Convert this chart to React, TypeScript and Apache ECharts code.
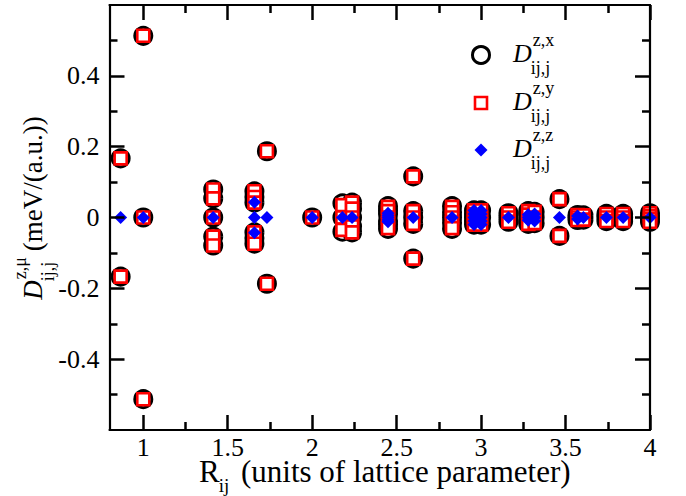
import React, { useEffect, useRef } from "react";
import * as echarts from "echarts";

// Neighbour-shell distances R_ij (units of the lattice parameter)
const shells = [
  0.866, 1.0, 1.414, 1.658, 1.732, 2.0, 2.179, 2.236, 2.449, 2.598, 2.828,
  2.958, 3.0, 3.162, 3.279, 3.317, 3.464, 3.571, 3.606, 3.742, 3.841, 4.0,
];

// D^{z,x}_{ij,j} values per shell (meV/(a.u.))
const dzx: number[][] = [
  [0.167, -0.167],
  [0.513, 0, -0.513],
  [0.079, 0.054, 0, -0.054, -0.079],
  [0.074, 0.058, 0.042, -0.042, -0.058, -0.074],
  [0.187, -0.187],
  [0],
  [0.04, 0, -0.04],
  [0.042, 0.025, 0, -0.025, -0.042],
  [0.032, 0.02, 0.01, -0.01, -0.02, -0.032],
  [0.116, 0.018, 0, -0.018, -0.116],
  [0.032, 0.015, 0, -0.015, -0.032],
  [0.02, 0.01, 0, -0.01, -0.02],
  [0.02, 0, -0.02],
  [0.012, 0, -0.012],
  [0.018, 0.008, -0.008, -0.018],
  [0.016, 0, -0.016],
  [0.052, -0.052],
  [0.007, 0, -0.007],
  [0.006, -0.006],
  [0.01, 0, -0.01],
  [0.01, 0, -0.01],
  [0.012, 0.004, -0.004, -0.012],
];

// D^{z,y}_{ij,j} values per shell
const dzy: number[][] = [
  [0.167, -0.167],
  [0.513, 0, -0.513],
  [0.079, 0.054, 0, -0.054, -0.079],
  [0.074, 0.058, 0.042, -0.042, -0.058, -0.074],
  [0.187, -0.187],
  [0],
  [0.035, 0, -0.035],
  [0.042, 0.025, 0, -0.025, -0.042],
  [0.03, 0.018, 0, -0.018, -0.03],
  [0.116, 0.018, 0, -0.018, -0.116],
  [0.03, 0.015, 0, -0.015, -0.03],
  [0.02, 0.01, 0, -0.01, -0.02],
  [0.02, 0, -0.02],
  [0.012, 0, -0.012],
  [0.018, 0.008, -0.008, -0.018],
  [0.016, 0, -0.016],
  [0.052, -0.052],
  [0.007, 0, -0.007],
  [0.006, -0.006],
  [0.01, 0, -0.01],
  [0.01, 0, -0.01],
  [0.012, 0.004, -0.004, -0.012],
];

// D^{z,z}_{ij,j} values per shell
const dzz: number[][] = [
  [0],
  [0],
  [0],
  [0.043, 0, -0.043],
  [0],
  [0],
  [0],
  [0],
  [0.012, 0.006, 0, -0.006, -0.012],
  [0],
  [0],
  [0.02, 0.01, 0, -0.01, -0.02],
  [0.02, 0.01, 0, -0.01, -0.02],
  [0],
  [0.008, 0, -0.008],
  [0.01, 0, -0.01],
  [0],
  [0.004, -0.004],
  [0],
  [0],
  [0],
  [0],
];

const xMajorTicks = [1, 1.5, 2, 2.5, 3, 3.5, 4];
const xMinorTicks = [1.25, 1.75, 2.25, 2.75, 3.25, 3.75];
const yMajorTicks = [-0.4, -0.2, 0, 0.2, 0.4];
const yMinorTicks = [-0.5, -0.3, -0.1, 0.1, 0.3, 0.5];

const SERIF = '"Liberation Serif", "Times New Roman", serif';
const TICK_FONT = 26;

function toPairs(values: number[][]): [number, number][] {
  const out: [number, number][] = [];
  values.forEach((list, i) => list.forEach((v) => out.push([shells[i], v])));
  return out;
}

function textWidth(text: string, size: number, italic = false): number {
  const ctx = document.createElement("canvas").getContext("2d");
  if (!ctx) return text.length * size * 0.5;
  ctx.font = `${italic ? "italic " : ""}${size}px ${SERIF}`;
  return ctx.measureText(text).width;
}

// Text with a super/subscript pair, laid out from baseline 0 and x 0.
function scriptText(
  base: string,
  italicBase: boolean,
  sup: string,
  sub: string,
  tail: string,
  size: number,
  small: number,
  subDrop = 0.45,
  tailGap = 0
) {
  const toMiddle = (baseline: number, s: number) => baseline - 0.3375 * s;
  const wBase = textWidth(base, size, italicBase);
  const wSup = sup ? textWidth(sup, small) : 0;
  const wSub = sub ? textWidth(sub, small) : 0;
  const children: any[] = [];
  const txt = (text: string, x: number, baseline: number, s: number, italic = false) => ({
    type: "text",
    x,
    y: toMiddle(baseline, s),
    style: {
      text,
      fill: "#000",
      fontFamily: SERIF,
      fontSize: s,
      lineHeight: Math.round(s * 0.7),
      fontStyle: italic ? "italic" : "normal",
      align: "left",
      verticalAlign: "middle",
    },
  });
  children.push(txt(base, 0, 0, size, italicBase));
  if (sup) children.push(txt(sup, wBase + 1, -0.6 * size, small));
  if (sub) children.push(txt(sub, wBase - 1, subDrop * size, small));
  let width = wBase + Math.max(wSup, wSub);
  if (tail) {
    const gap = textWidth(" ", size) + tailGap;
    children.push(txt(tail, width + gap, 0, size));
    width += gap + textWidth(tail, size);
  }
  return { children, width };
}

const xRange = { min: 0.8, max: 4 };
const yRange = { min: -0.6, max: 0.6 };
const black = "#000";

function xAxisDef(position: "top" | "bottom", ticks: number[], len: number, main: boolean, labels: boolean) {
  return {
    type: "value",
    position,
    ...xRange,
    z: 5,
    splitLine: { show: false },
    axisLine: { show: main, onZero: false, lineStyle: { color: black, width: 2.2 } },
    axisTick: { show: true, inside: true, length: len, customValues: ticks, lineStyle: { color: black, width: 2.5 } },
    axisLabel: labels
      ? { show: true, customValues: ticks, color: black, fontFamily: SERIF, fontSize: TICK_FONT, lineHeight: 18, margin: 8 }
      : { show: false },
  };
}

function yAxisDef(position: "left" | "right", ticks: number[], len: number, main: boolean, labels: boolean) {
  return {
    type: "value",
    position,
    ...yRange,
    z: 5,
    splitLine: { show: false },
    axisLine: { show: main, onZero: false, lineStyle: { color: black, width: 2.2 } },
    axisTick: { show: true, inside: true, length: len, customValues: ticks, lineStyle: { color: black, width: 2.5 } },
    axisLabel: labels
      ? { show: true, customValues: ticks, color: black, fontFamily: SERIF, fontSize: TICK_FONT, margin: 10 }
      : { show: false },
  };
}

export default function App() {
  const ref = useRef<HTMLDivElement>(null);

  useEffect(() => {
    if (!ref.current) return;
    const chart = echarts.init(ref.current, undefined, { renderer: "svg" });

    // Axis titles
    const xt = scriptText("R", false, "", "ij", "(units of lattice parameter)", 31, 19, 0.33, 3);
    const yt = scriptText("D", true, "z,μ", "ij,j", "(meV/(a.u.))", 27, 18);

    // Legend entries
    const legendRows = [
      { sup: "z,x", cy: 55 },
      { sup: "z,y", cy: 103 },
      { sup: "z,z", cy: 150 },
    ];
    const legendTexts = legendRows.map((r) => {
      const t = scriptText("D", true, r.sup, "ij,j", "", 26, 18);
      return { type: "group", x: 513, y: r.cy + 7, children: t.children };
    });

    const d = 6.5;
    chart.setOption({
      animation: false,
      grid: { left: 109.5, right: 36, top: 5, bottom: 66 },
      xAxis: [
        xAxisDef("bottom", xMajorTicks, 15, true, true),
        xAxisDef("bottom", xMinorTicks, 8, false, false),
        xAxisDef("top", xMajorTicks, 15, true, false),
        xAxisDef("top", xMinorTicks, 8, false, false),
      ],
      yAxis: [
        yAxisDef("left", yMajorTicks, 15, true, true),
        yAxisDef("left", yMinorTicks, 8, false, false),
        yAxisDef("right", yMajorTicks, 15, true, false),
        yAxisDef("right", yMinorTicks, 8, false, false),
      ],
      series: [
        {
          name: "D^{z,x}",
          type: "scatter",
          data: toPairs(dzx),
          symbol: "circle",
          symbolSize: 17,
          itemStyle: { color: "#fff", borderColor: "#000", borderWidth: 3, opacity: 1 },
          z: 2,
        },
        {
          name: "D^{z,y}",
          type: "scatter",
          data: toPairs(dzy),
          symbol: "rect",
          symbolSize: 12,
          itemStyle: { color: "#fff", borderColor: "#ff0000", borderWidth: 2.6, opacity: 1 },
          z: 3,
        },
        {
          name: "D^{z,z}",
          type: "scatter",
          data: toPairs(dzz),
          symbol: "diamond",
          symbolSize: 13,
          itemStyle: { color: "#0000ff", opacity: 1 },
          z: 4,
        },
      ],
      graphic: [
        {
          type: "group",
          x: 199,
          y: 482,
          children: xt.children,
        },
        {
          type: "group",
          x: 42,
          y: 208,
          rotation: Math.PI / 2,
          children: yt.children.map((c: any) => ({ ...c, x: c.x - yt.width / 2 })),
        },
        {
          type: "circle",
          shape: { cx: 481, cy: 55, r: 8.5 },
          style: { fill: "#fff", stroke: "#000", lineWidth: 3 },
        },
        {
          type: "rect",
          shape: { x: 475, y: 97, width: 12, height: 12 },
          style: { fill: "#fff", stroke: "#ff0000", lineWidth: 2.6 },
        },
        {
          type: "polygon",
          shape: { points: [[481, 150 - d], [481 + d, 150], [481, 150 + d], [481 - d, 150]] },
          style: { fill: "#0000ff" },
        },
        ...legendTexts,
      ],
    });

    return () => chart.dispose();
  }, []);

  return (
    <div
      ref={ref}
      style={{ position: "fixed", left: 0, top: 0, width: 686, height: 496, background: "#fff" }}
    />
  );
}
